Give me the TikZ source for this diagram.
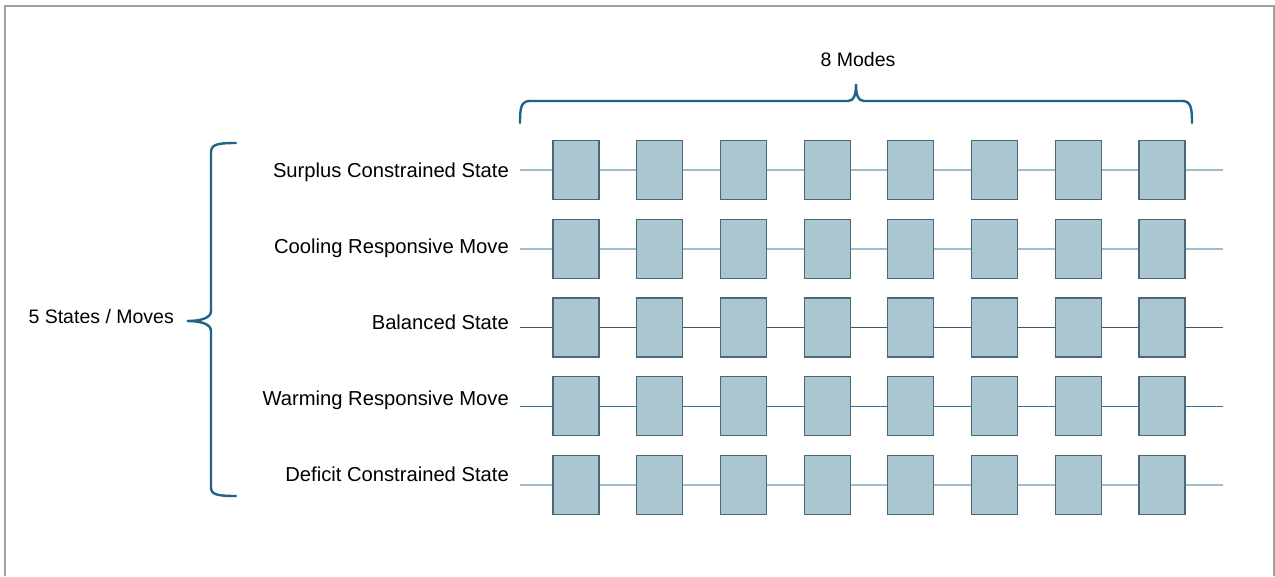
\documentclass[tikz,border=0pt]{standalone}
\usepackage{fontspec}
\setmainfont{Liberation Sans}
\definecolor{bracecol}{RGB}{31,99,133}
\definecolor{boxfill}{RGB}{169,198,209}
\definecolor{boxline}{RGB}{74,104,120}
\definecolor{linklight}{RGB}{158,190,205}
\definecolor{linkdark}{RGB}{61,88,104}
\definecolor{linkteal}{RGB}{46,120,150}
\definecolor{framecol}{RGB}{160,160,160}
\tikzset{
    modebox/.style={draw=boxline, fill=boxfill, line width=1.2pt,
        minimum width=46pt, minimum height=59pt, inner sep=0pt},
    rowlabel/.style={anchor=base east, inner sep=0pt, font=\fontsize{20.2}{24}\selectfont},
    bracepath/.style={draw=bracecol, line width=2.4pt, line cap=round},
    link/.style={line width=1.5pt}
}
\begin{document}
\begin{tikzpicture}
    [x=1pt, y=-1pt, font=\fontsize{19.5}{23}\selectfont]
    \useasboundingbox (0,0) rectangle (1275,576);
    % frame, open at the bottom
    \draw [framecol, line width=1.5pt] (5,576) -- (5,6) -- (1274,6) -- (1274,576);

    % row labels
    \foreach \name/\txt [count=\r] in {surplus/Surplus Constrained State,
            cooling/Cooling Responsive Move, balanced/Balanced State,
            warming/Warming Responsive Move, deficit/Deficit Constrained State}
        \node [rowlabel] (\name) at (509,{170+76*(\r-1)+7}) {\txt};

    % rows of modes
    \foreach \r/\col in {1/linklight, 2/linklight, 3/linkdark, 4/linkteal, 5/linklight} {
        \coordinate (start\r) at (520,{170+78.75*(\r-1)});
        \coordinate (end\r) at (1223,{170+78.75*(\r-1)});
        \foreach \c in {1,...,8}
            \node [modebox] (m\r-\c) at ({576+83.7*(\c-1)},{170+78.75*(\r-1)}) {};
        \draw [link, \col] (start\r) -- (m\r-1.west);
        \foreach \c [evaluate=\c as \n using int(\c+1)] in {1,...,7}
            \draw [link, \col] (m\r-\c.east) -- (m\r-\n.west);
        \draw [link, \col] (m\r-8.east) -- (end\r);
    }

    % braces
    \path [bracepath] (236,143) .. controls (215,143) and (211,145) .. (211,153)
        -- (211,311) .. controls (211,318) and (201,321) .. (187,321)
        .. controls (201,321) and (211,324) .. (211,331)
        -- (211,487) .. controls (211,494) and (215,496) .. (236,496);
    \node [anchor=base east, inner sep=0pt] (states) at (174,323) {5 States / Moves};

    \path [bracepath] (520,123) .. controls (520,108) and (521,101) .. (530,101)
        -- (848,101) .. controls (854,101) and (856,95) .. (856,84)
        .. controls (856,95) and (858,101) .. (864,101)
        -- (1182,101) .. controls (1191,101) and (1192,108) .. (1192,123);
    \node [anchor=base, inner sep=0pt] (modes) at (858,66) {8 Modes};
\end{tikzpicture}
\end{document}
